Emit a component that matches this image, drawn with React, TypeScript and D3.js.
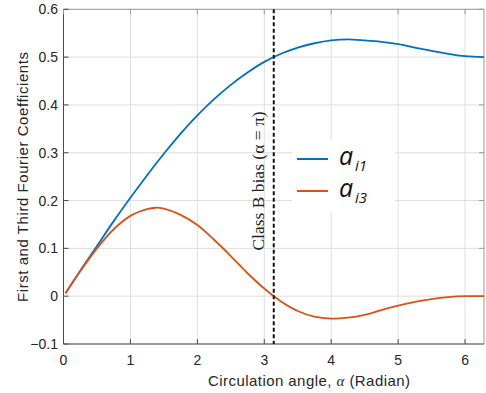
import React from "react";
import * as d3 from "d3";

const alpha = [0.03, 0.25, 0.5, 0.75, 1, 1.25, 1.375, 1.5, 1.75, 2, 2.25, 2.5, 2.75, 3, 3.25, 3.5, 3.75, 4, 4.25, 4.5, 4.75, 5, 5.25, 5.5, 5.75, 6, 6.283];
const ai1 = [0.006, 0.053, 0.105, 0.157, 0.206, 0.253, 0.276, 0.298, 0.340, 0.378, 0.412, 0.442, 0.468, 0.490, 0.507, 0.520, 0.529, 0.535, 0.537, 0.535, 0.532, 0.527, 0.520, 0.513, 0.507, 0.502, 0.500];
const ai3 = [0.006, 0.052, 0.100, 0.140, 0.168, 0.182, 0.185, 0.183, 0.170, 0.149, 0.118, 0.084, 0.048, 0.016, -0.011, -0.031, -0.043, -0.047, -0.045, -0.039, -0.029, -0.020, -0.012, -0.006, -0.002, 0.000, 0.000];
const xTicks = [0, 1, 2, 3, 4, 5, 6];
const yTicks = [-0.1, 0, 0.1, 0.2, 0.3, 0.4, 0.5, 0.6];
const legendSubs = ["i1", "i3"];
const classB = Math.PI;

const W = 486, H = 393;
const L = 63.5, R = 484, T = 9.3, B = 344;

export default function App() {
  const x = d3.scaleLinear().domain([0, 2 * Math.PI]).range([L, R]);
  const y = d3.scaleLinear().domain([-0.1, 0.6]).range([B, T]);
  const line = (vals: number[]) =>
    d3.line<number>().x((_, i) => x(alpha[i])).y((v) => y(v)).curve(d3.curveCatmullRom.alpha(0.5))(vals) || "";
  const tick = 5;
  const txt = "#262626";
  const colors = ["#0072BD", "#D95319"];
  return (
    <svg width={W} height={H} style={{ position: "absolute", left: 0, top: 0, background: "#fff" }}>
      <rect x={0} y={0} width={W} height={H} fill="#fff" />
      {/* grid */}
      {xTicks.map((t) => (
        <line key={"gx" + t} x1={x(t)} x2={x(t)} y1={T} y2={B} stroke="#dedede" strokeWidth={1} />
      ))}
      {yTicks.map((t) => (
        <line key={"gy" + t} x1={L} x2={R} y1={y(t)} y2={y(t)} stroke="#dedede" strokeWidth={1} />
      ))}
      {/* box */}
      <line x1={L} x2={R} y1={T} y2={T} stroke="#9a9a9a" strokeWidth={1} />
      <line x1={R} x2={R} y1={T} y2={B} stroke="#9a9a9a" strokeWidth={1} />
      <line x1={L} x2={L} y1={T} y2={B} stroke="#4a4a4a" strokeWidth={1} />
      <line x1={L} x2={R} y1={B} y2={B} stroke="#4a4a4a" strokeWidth={1} />
      {/* ticks */}
      {xTicks.map((t) => (
        <g key={"tx" + t}>
          <line x1={x(t)} x2={x(t)} y1={B} y2={B - tick} stroke="#4a4a4a" />
          <line x1={x(t)} x2={x(t)} y1={T} y2={T + tick} stroke="#9a9a9a" />
          <text x={x(t)} y={365} textAnchor="middle" fontFamily="Liberation Sans, Arial, sans-serif" fontSize={14} fill={txt}>
            {t}
          </text>
        </g>
      ))}
      {yTicks.map((t) => (
        <g key={"ty" + t}>
          <line x1={L} x2={L + tick} y1={y(t)} y2={y(t)} stroke="#4a4a4a" />
          <line x1={R} x2={R - tick} y1={y(t)} y2={y(t)} stroke="#9a9a9a" />
          <text x={58} y={y(t) + 5} textAnchor="end" fontFamily="Liberation Sans, Arial, sans-serif" fontSize={14} fill={txt}>
            {t === 0 ? "0" : d3.format(".1f")(t)}
          </text>
        </g>
      ))}
      {/* curves */}
      <path d={line(ai1)} fill="none" stroke={colors[0]} strokeWidth={1.8} />
      <path d={line(ai3)} fill="none" stroke={colors[1]} strokeWidth={1.8} />
      {/* class B line */}
      <line x1={x(classB)} x2={x(classB)} y1={T} y2={B} stroke="#111" strokeWidth={2} strokeDasharray="4 2.5" />
      <text
        transform={`translate(264,181) rotate(-90)`}
        textAnchor="middle"
        fontFamily="Liberation Serif, Times New Roman, serif"
        fontSize={17.5}
        fill="#222"
      >
        Class B bias (α = π)
      </text>
      {/* legend */}
      <rect x={292} y={140} width={103} height={72} fill="#fff" />
      {legendSubs.map((s, i) => {
        const ly = 159 + i * 32;
        return (
          <g key={s}>
            <line x1={297} x2={328} y1={ly} y2={ly} stroke={colors[i]} strokeWidth={2} />
            <text x={339} y={ly + 6} fontFamily="Open Sans, sans-serif" fontStyle="italic" fontSize={25} fill="#111">
              a
            </text>
            <text x={355} y={ly + 12} fontFamily="Open Sans, sans-serif" fontStyle="italic" fontSize={15} fill="#111">
              {s}
            </text>
          </g>
        );
      })}
      {/* axis labels */}
      <text x={309} y={386} textAnchor="middle" fontFamily="Liberation Sans, Arial, sans-serif" fontSize={15} fill={txt} textLength={202} lengthAdjust="spacing">
        Circulation angle,{" "}
        <tspan fontFamily="Liberation Serif, serif" fontStyle="italic">α</tspan> (Radian)
      </text>
      <text
        transform={`translate(28,177) rotate(-90)`}
        textAnchor="middle"
        fontFamily="Liberation Sans, Arial, sans-serif"
        fontSize={15}
        fill={txt}
        textLength={250}
        lengthAdjust="spacing"
      >
        First and Third Fourier Coefficients
      </text>
    </svg>
  );
}
